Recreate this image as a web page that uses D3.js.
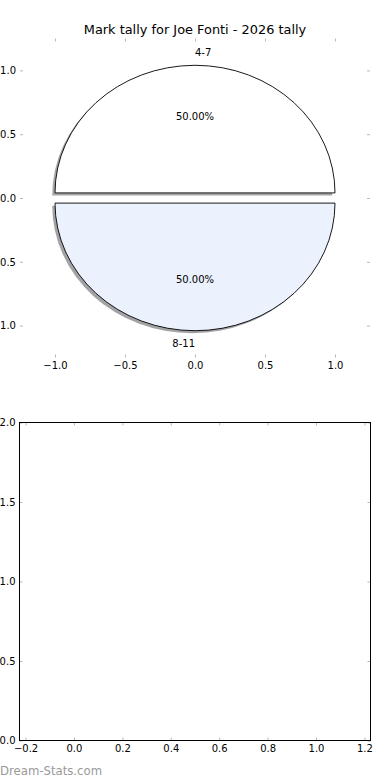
<!DOCTYPE html>
<html>
<head>
<meta charset="utf-8">
<title>Mark tally for Joe Fonti</title>
<script src="https://cdn.jsdelivr.net/npm/d3@7"></script>
<style>
  body { margin: 0; background: #fff; }
  svg text { font-family: "DejaVu Sans", sans-serif; fill: #000; }
  .tick line { stroke: #b8b8b8; }
  .watermark { fill: #9a9a9a; }
</style>
</head>
<body>
<svg id="chart" width="390" height="780"></svg>
<script>
// data
var chartTitle = "Mark tally for Joe Fonti - 2026 tally";
var markRanges = ["4-7", "8-11"];
var markCounts = [1, 1];
var pieTicks = [-1.0, -0.5, 0.0, 0.5, 1.0];
var emptyXTicks = [-0.2, 0.0, 0.2, 0.4, 0.6, 0.8, 1.0, 1.2];
var emptyYTicks = [0.0, 0.5, 1.0, 1.5, 2.0];

var svg = d3.select("#chart");
var fmt = d3.format(".1f");

// ---------- top panel: pie ----------
var px = d3.scaleLinear().domain([-1.25, 1.25]).range([20, 370]);
var py = d3.scaleLinear().domain([-1.25, 1.25]).range([357.5, 38.5]);
var color = d3.scaleOrdinal().domain(markRanges).range(["#ffffff", "#ebf1fd"]);

var explode = 0.04, shadowOff = -0.02;
var kx = px(1) - px(0), ky = py(0) - py(1);

var pie = d3.pie().sort(null).startAngle(-Math.PI / 2).endAngle(3 * Math.PI / 2);
var arcs = pie(markCounts);
var arcGen = d3.arc().innerRadius(0).outerRadius(1);

// matplotlib style angle (ccw from +x)
function theta(d) {
  var a = (d.startAngle + d.endAngle) / 2;
  var t = (Math.PI / 2 - a) % (2 * Math.PI);
  return (t + 2 * Math.PI) % (2 * Math.PI);
}
function centre(d) {
  var t = theta(d);
  return [explode * Math.cos(t), explode * Math.sin(t)];
}
function place(d, dx, dy) {
  var c = centre(d);
  return "translate(" + px(c[0] + dx) + "," + py(c[1] + dy) + ") scale(" + kx + "," + ky + ")";
}

var pieG = svg.append("g");

pieG.selectAll(".shadow")
  .data(arcs)
  .enter().append("path")
    .attr("class", "shadow")
    .attr("d", arcGen)
    .attr("transform", function(d) { return place(d, shadowOff, shadowOff); })
    .attr("fill", function(d, i) {
      var c = d3.rgb(color(markRanges[i]));
      return d3.rgb(c.r * 0.3, c.g * 0.3, c.b * 0.3).toString();
    })
    .attr("fill-opacity", 0.5);

pieG.selectAll(".wedge")
  .data(arcs)
  .enter().append("path")
    .attr("class", "wedge")
    .attr("d", arcGen)
    .attr("transform", function(d) { return place(d, 0, 0); })
    .attr("fill", function(d, i) { return color(markRanges[i]); })
    .attr("stroke", "#000")
    .attr("stroke-width", 0.9)
    .attr("vector-effect", "non-scaling-stroke");

pieG.selectAll(".label")
  .data(arcs)
  .enter().append("text")
    .attr("class", "label")
    .attr("x", function(d) { return px(centre(d)[0] + 1.1 * Math.cos(theta(d))); })
    .attr("y", function(d) { return py(centre(d)[1] + 1.1 * Math.sin(theta(d))); })
    .attr("dy", "0.36em")
    .attr("font-size", 10)
    .attr("text-anchor", function(d) { return Math.cos(theta(d)) > 0 ? "start" : "end"; })
    .text(function(d, i) { return markRanges[i]; });

var total = d3.sum(markCounts);
pieG.selectAll(".pct")
  .data(arcs)
  .enter().append("text")
    .attr("class", "pct")
    .attr("x", function(d) { return px(centre(d)[0] + 0.6 * Math.cos(theta(d))); })
    .attr("y", function(d) { return py(centre(d)[1] + 0.6 * Math.sin(theta(d))); })
    .attr("dy", "0.36em")
    .attr("font-size", 10)
    .attr("text-anchor", "middle")
    .text(function(d) { return d3.format(".2%")(d.value / total); });

function styleAxis(g) {
  g.attr("font-family", "DejaVu Sans, sans-serif").attr("font-size", 10);
  g.select(".domain").remove();
}

svg.append("g").attr("transform", "translate(0," + py.range()[0] + ")")
  .call(d3.axisBottom(px).tickValues(pieTicks).tickFormat(fmt).tickSize(-3).tickPadding(4))
  .call(styleAxis);
svg.append("g").attr("transform", "translate(0," + py.range()[1] + ")")
  .call(d3.axisTop(px).tickValues(pieTicks).tickFormat("").tickSize(-3))
  .call(styleAxis);
svg.append("g").attr("transform", "translate(" + px.range()[0] + ",0)")
  .call(d3.axisLeft(py).tickValues(pieTicks).tickFormat(fmt).tickSize(-3).tickPadding(4))
  .call(styleAxis);
svg.append("g").attr("transform", "translate(" + px.range()[1] + ",0)")
  .call(d3.axisRight(py).tickValues(pieTicks).tickFormat("").tickSize(-3))
  .call(styleAxis);

svg.append("text")
  .attr("x", (px.range()[0] + px.range()[1]) / 2)
  .attr("y", 34)
  .attr("text-anchor", "middle")
  .attr("font-size", 12.9)
  .text(chartTitle);

// ---------- bottom panel: empty axes ----------
var bx = d3.scaleLinear().domain([-0.225, 1.225]).range([19.5, 370.5]);
var by = d3.scaleLinear().domain([0, 2]).range([740.5, 422.5]);

svg.append("g").attr("transform", "translate(0," + by.range()[0] + ")")
  .call(d3.axisBottom(bx).tickValues(emptyXTicks).tickFormat(fmt).tickSize(-3).tickPadding(4))
  .call(styleAxis);
svg.append("g").attr("transform", "translate(0," + by.range()[1] + ")")
  .call(d3.axisTop(bx).tickValues(emptyXTicks).tickFormat("").tickSize(-3))
  .call(styleAxis);
svg.append("g").attr("transform", "translate(" + bx.range()[0] + ",0)")
  .call(d3.axisLeft(by).tickValues(emptyYTicks).tickFormat(fmt).tickSize(-3).tickPadding(4))
  .call(styleAxis);
svg.append("g").attr("transform", "translate(" + bx.range()[1] + ",0)")
  .call(d3.axisRight(by).tickValues(emptyYTicks).tickFormat("").tickSize(-3))
  .call(styleAxis);

svg.append("rect")
  .attr("x", bx.range()[0])
  .attr("y", by.range()[1])
  .attr("width", bx.range()[1] - bx.range()[0])
  .attr("height", by.range()[0] - by.range()[1])
  .attr("fill", "none")
  .attr("stroke", "#000")
  .attr("stroke-width", 1);

svg.append("text")
  .attr("class", "watermark")
  .attr("x", 0)
  .attr("y", 774.5)
  .attr("font-size", 11.7)
  .text("Dream-Stats.com");
</script>
</body>
</html>
